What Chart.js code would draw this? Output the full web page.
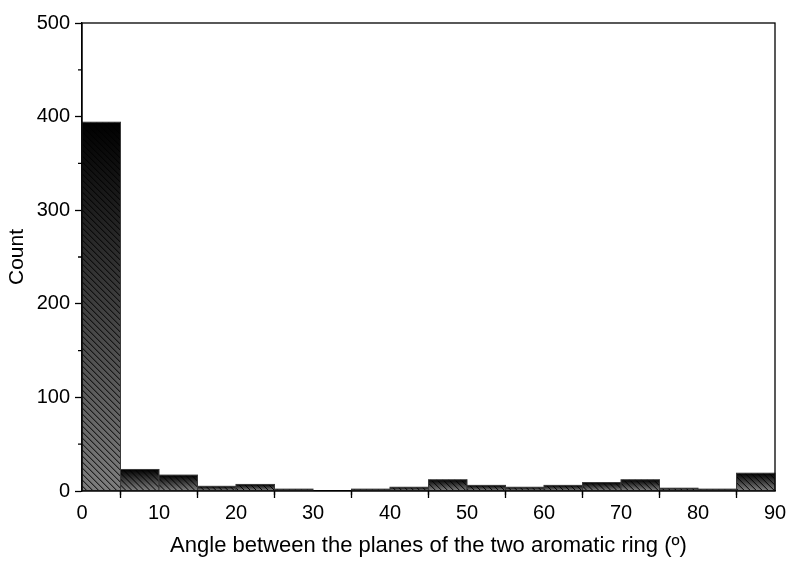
<!DOCTYPE html>
<html>
<head>
<meta charset="utf-8">
<script src="https://cdn.jsdelivr.net/npm/chart.js@4.4.1/dist/chart.umd.min.js"></script>
<style>
  html, body { margin: 0; padding: 0; background: #fff; }
  #wrap { width: 790px; height: 561px; position: relative; }
</style>
</head>
<body>
<div id="wrap"><canvas id="c" width="790" height="561"></canvas></div>
<script>
// ---- data ----
const binStarts = [0, 5, 10, 15, 20, 25, 30, 35, 40, 45, 50, 55, 60, 65, 70, 75, 80, 85];
const binWidth = 5;
const counts = [394, 23, 17, 5, 7, 2, 0, 2, 4, 12, 6, 4, 6, 9, 12, 3, 2, 19];
const xTicksMajor = [0, 10, 20, 30, 40, 50, 60, 70, 80, 90];
const xTicksMinor = [5, 15, 25, 35, 45, 55, 65, 75, 85];
const yTicksMajor = [0, 100, 200, 300, 400, 500];
const yTicksMinor = [50, 150, 250, 350, 450];
const xTitle = 'Angle between the planes of the two aromatic ring (º)';
const yTitle = 'Count';

const FONT = "'Liberation Sans', Arial, sans-serif";

const hatchPlugin = {
  id: 'hatchBars',
  afterDatasetsDraw(chart) {
    const ctx = chart.ctx;
    const meta = chart.getDatasetMeta(0);
    ctx.save();
    meta.data.forEach((el) => {
      const p = el.getProps(['x', 'y', 'base', 'width'], true);
      const left = p.x - p.width / 2;
      const right = p.x + p.width / 2;
      const top = Math.min(p.y, p.base);
      const bottom = Math.max(p.y, p.base);
      const h = bottom - top;
      if (h < 0.5) return;
      const g = ctx.createLinearGradient(0, top, 0, bottom);
      g.addColorStop(0, '#000000');
      g.addColorStop(1, '#7e7e7e');
      ctx.fillStyle = g;
      ctx.fillRect(left, top, right - left, h);
      // hatch
      ctx.save();
      ctx.beginPath();
      ctx.rect(left, top, right - left, h);
      ctx.clip();
      ctx.strokeStyle = '#000';
      ctx.lineWidth = 1;
      const step = 6;
      for (let k = top - (right - left) - step; k < bottom + step; k += step) {
        ctx.beginPath();
        ctx.moveTo(left, k);
        ctx.lineTo(right, k + (right - left));
        ctx.stroke();
      }
      ctx.restore();
      ctx.strokeStyle = '#3a3a3a';
      ctx.lineWidth = 1;
      ctx.strokeRect(left, top, right - left, h);
    });
    ctx.restore();
  },
  afterDraw(chart) {
    const ctx = chart.ctx;
    const a = chart.chartArea;
    const xs = chart.scales.x, ys = chart.scales.y;
    ctx.save();
    ctx.strokeStyle = '#000';
    ctx.lineWidth = 1.3;
    // minor ticks
    ctx.beginPath();
    xTicksMinor.forEach(v => {
      const px = xs.getPixelForValue(v);
      ctx.moveTo(px, a.bottom);
      ctx.lineTo(px, a.bottom + 4);
    });
    yTicksMinor.forEach(v => {
      const py = ys.getPixelForValue(v);
      ctx.moveTo(a.left, py);
      ctx.lineTo(a.left - 4, py);
    });
    ctx.stroke();
    // frame
    ctx.strokeRect(a.left, a.top, a.right - a.left, a.bottom - a.top);
    ctx.restore();
  }
};

new Chart(document.getElementById('c'), {
  type: 'bar',
  data: {
    datasets: [{
      data: binStarts.map((s, i) => ({ x: s + binWidth / 2, y: counts[i] })),
      backgroundColor: 'rgba(0,0,0,0)',
      borderWidth: 0,
      barPercentage: 1,
      categoryPercentage: 1,
      grouped: false
    }]
  },
  options: {
    responsive: false,
    animation: false,
    devicePixelRatio: 1,
    layout: { padding: { top: 23, right: 15, left: 0, bottom: 0 } },
    plugins: { legend: { display: false }, tooltip: { enabled: false } },
    scales: {
      x: {
        type: 'linear',
        offset: false,
        min: 0, max: 90,
        afterFit: (s) => { s.height = 70; },
        afterBuildTicks: (s) => { s.ticks = xTicksMajor.map(v => ({ value: v })); },
        ticks: { color: '#000', font: { family: FONT, size: 20 }, padding: 3, maxRotation: 0, autoSkip: false },
        grid: { drawOnChartArea: false, tickLength: 7, tickColor: '#000', tickWidth: 1.3 },
        border: { color: '#000', width: 1.3 },
        title: { display: true, text: xTitle, color: '#000', font: { family: FONT, size: 22 }, padding: { top: 0, bottom: 2 } }
      },
      y: {
        min: 0, max: 500,
        afterFit: (s) => { s.width = 82; },
        afterBuildTicks: (s) => { s.ticks = yTicksMajor.map(v => ({ value: v })); },
        ticks: { color: '#000', font: { family: FONT, size: 20 }, padding: 5 },
        grid: { drawOnChartArea: false, tickLength: 7, tickColor: '#000', tickWidth: 1.3 },
        border: { color: '#000', width: 1.3 },
        title: { display: true, text: yTitle, color: '#000', font: { family: FONT, size: 21 }, padding: { top: 5, bottom: 0 } }
      }
    }
  },
  plugins: [hatchPlugin]
});
</script>
</body>
</html>
